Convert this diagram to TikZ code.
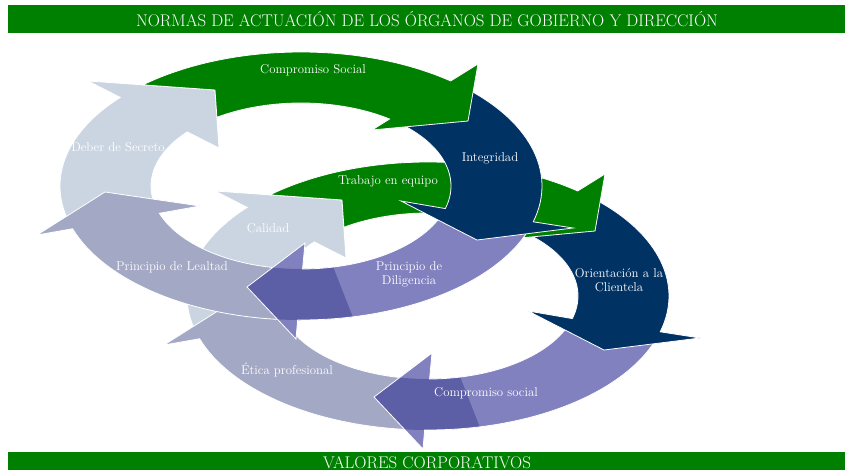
\documentclass[tikz,border=0pt]{standalone}
\usepackage{tikz}

\definecolor{verde}{RGB}{0,128,0}
\definecolor{marino}{RGB}{0,50,100}
\definecolor{morado}{RGB}{130,129,192}
\definecolor{moradooscuro}{RGB}{92,94,166}
\definecolor{grisazul}{RGB}{163,168,196}
\definecolor{claro}{RGB}{203,213,226}

% outlines of the five arrows of one cycle, around its centre
\newcommand{\flechaverde}{(229:241 and 134) arc[start angle=229, end angle=308.4, x radius=241, y radius=134]
  -- (177,-122) -- (167,-65) -- (71,-56)
  -- (306.2:150 and 83) arc[start angle=306.2, end angle=235.9, x radius=150, y radius=83]
  -- (-86,-96) -- cycle}
\newcommand{\flechamarino}{(310:241 and 134) arc[start angle=310, end angle=375.5, x radius=241, y radius=134]
  -- (272,42) -- (176,54) -- (100,15)
  -- (375.8:150 and 83) arc[start angle=375.8, end angle=310, x radius=150, y radius=83] -- cycle}
\newcommand{\flechamorada}{(20:241 and 134) arc[start angle=20, end angle=90.8, x radius=241, y radius=134]
  -- (-5,153) -- (-54,101) -- (4,57)
  -- (89.4:150 and 83) arc[start angle=89.4, end angle=20, x radius=150, y radius=83] -- cycle}
\newcommand{\cabezamorada}{(77.6:241 and 134) arc[start angle=77.6, end angle=115, x radius=241, y radius=134]
  -- (115:150 and 83) arc[start angle=115, end angle=77.6, x radius=150, y radius=83] -- cycle}
\newcommand{\flechagris}{(95:241 and 134) arc[start angle=95, end angle=161.4, x radius=241, y radius=134]
  -- (-264,49) -- (-196,6) -- (-101,20)
  -- (160.8:150 and 83) arc[start angle=160.8, end angle=95, x radius=150, y radius=83] -- cycle}
\newcommand{\flechaclara}{(165:241 and 134) arc[start angle=165, end angle=221.4, x radius=241, y radius=134]
  -- (-213,-105) -- (-86,-96) -- (-82,-38)
  -- (220.7:150 and 83) arc[start angle=220.7, end angle=165, x radius=150, y radius=83] -- cycle}

% one whole cycle, drawn from the last arrow back to the first
\newcommand{\ciclo}{%
  \filldraw[flecha, fill=claro] \flechaclara;
  \filldraw[flecha, fill=grisazul] \flechagris;
  \fill[morado] \flechamorada;
  \begin{scope}
    \clip \flechamorada;
    \fill[moradooscuro] \cabezamorada;
  \end{scope}
  \draw[flecha] \flechamorada;
  \filldraw[flecha, fill=marino] \flechamarino;
  \filldraw[flecha, fill=verde] \flechaverde;
}

\begin{document}
\begin{tikzpicture}[x=1pt, y=-1pt,
    flecha/.style={draw=white, line width=0.8pt},
    etiqueta/.style={text=white, font=\fontsize{12.8}{14}\selectfont, align=center},
    titulo/.style={text=white, font=\fontsize{16.9}{18}\selectfont}]
  \useasboundingbox (0,0) rectangle (854,470);

  \fill[verde] (8,5) rectangle (845,33);
  \node[titulo] (normas) at (427,19) {NORMAS DE ACTUACIÓN DE LOS ÓRGANOS DE GOBIERNO Y DIRECCIÓN};

  % lower cycle
  \begin{scope}[shift={(428,296)}]
    \ciclo
  \end{scope}
  % upper cycle
  \begin{scope}[shift={(301,186)}]
    \ciclo
  \end{scope}

  \node[etiqueta] (compromiso) at (313,70) {Compromiso Social};
  \node[etiqueta] (integridad) at (490,158) {Integridad};
  \node[etiqueta] (trabajo) at (388,181) {Trabajo en equipo};
  \node[etiqueta] (deber) at (118,147) {Deber de Secreto};
  \node[etiqueta] (calidad) at (268,228) {Calidad};
  \node[etiqueta] (lealtad) at (172,267) {Principio de Lealtad};
  \node[etiqueta] (diligencia) at (409,274) {Principio de\\Diligencia};
  \node[etiqueta] (orientacion) at (619,280) {Orientación a la\\Clientela};
  \node[etiqueta] (social) at (486,393) {Compromiso social};
  \node[etiqueta] (etica) at (287,370) {Ética profesional};

  \fill[verde] (8,452) rectangle (845,470);
  \node[titulo, anchor=base] (valores) at (427,468) {VALORES CORPORATIVOS};
\end{tikzpicture}
\end{document}
